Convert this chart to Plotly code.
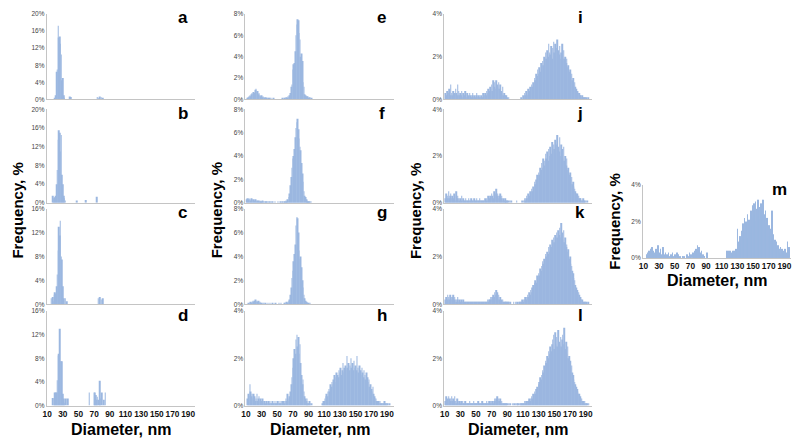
import plotly.graph_objects as go

# ---------------- data (frequency, % per 1-nm diameter bin) ----------------
diam_all = list(range(10, 198))
x_ticks = [10, 30, 50, 70, 90, 110, 130, 150, 170, 190]

a_diam = [20, 21, 22, 23, 24, 25, 26, 27, 28, 29, 30, 31, 32, 39, 40, 74, 75, 77, 79, 81]
a_freq = [0.3, 1.0, 6.5, 7.0, 17.2, 14.5, 14.7, 13.0, 10.5, 4.5, 5.0, 1.0, 0.3, 0.7, 0.6, 0.6, 0.4, 0.7, 0.5, 0.4]

b_diam = [17, 18, 19, 20, 21, 22, 23, 24, 25, 26, 27, 28, 29, 30, 31, 32, 33, 48, 59, 73]
b_freq = [1.5, 1.0, 0.8, 1.2, 1.5, 4.0, 7.0, 13.5, 15.5, 15.0, 11.0, 14.5, 6.0, 4.0, 1.5, 1.0, 0.5, 0.5, 0.6, 1.3]

c_diam = [15, 17, 18, 19, 20, 21, 22, 23, 24, 25, 26, 27, 28, 29, 30, 31, 33, 35, 75, 77, 79, 81]
c_freq = [1.0, 1.2, 0.5, 1.6, 2.0, 1.8, 3.0, 5.0, 9.0, 13.0, 11.5, 14.0, 8.0, 7.5, 3.0, 1.0, 1.0, 0.5, 1.0, 1.2, 0.8, 1.0]

d_diam = [17, 19, 20, 21, 22, 23, 24, 25, 26, 27, 28, 29, 30, 31, 32, 34, 36,
          64, 70, 71, 72, 73, 74, 76, 77, 78, 80, 82, 84]
d_freq = [1.3, 1.2, 2.2, 2.2, 2.2, 4.3, 8.5, 8.8, 13.0, 7.5, 7.5, 7.5, 2.0, 1.2, 0.5, 1.2, 1.2,
          2.2, 2.2, 2.2, 1.8, 1.0, 1.5, 1.0, 4.2, 1.2, 2.2, 1.0, 2.2]

e_freq = [
    0, 0, 0.1, 0.2, 0.3, 0.4, 0.3, 0.5, 0.6, 0.5,
    0.7, 0.6, 0.9, 1.0, 0.7, 0.8, 0.5, 0.6, 0.4, 0.3,
    0.4, 0.2, 0.3, 0.2, 0.1, 0.2, 0.1, 0.1, 0, 0.1,
    0.1, 0, 0.1, 0, 0, 0.1, 0, 0, 0, 0,
    0, 0, 0, 0, 0, 0, 0, 0.1, 0, 0.1,
    0.1, 0.1, 0.2, 0.1, 0.3, 0.2, 0.4, 0.6, 1.2, 1.4,
    2.8, 3.3, 3.4, 4.5, 6.0, 7.0, 7.5, 7.4, 6.2, 5.6,
    4.0, 4.3, 3.6, 1.6, 1.2, 0.5, 0.4, 0.3, 0.2, 0.3,
    0.1, 0.2, 0.1, 0, 0.1, 0, 0, 0, 0, 0,
] + [0] * 98

f_freq = [
    0, 0.3, 0.4, 0.3, 0.4, 0.3, 0.2, 0.4, 0.3, 0.2,
    0.3, 0.2, 0.3, 0.2, 0.1, 0.2, 0.2, 0.1, 0.2, 0.1,
    0.1, 0.2, 0.1, 0.1, 0, 0.1, 0.1, 0, 0.1, 0,
    0.1, 0, 0.1, 0, 0.1, 0, 0, 0.1, 0, 0,
    0, 0.1, 0, 0, 0.1, 0, 0, 0.1, 0, 0.1,
    0.1, 0.2, 0.1, 0.3, 0.2, 0.5, 0.8, 1.5, 2.2, 3.0,
    3.8, 4.0, 4.6, 5.6, 6.4, 6.9, 7.2, 6.3, 5.5, 4.8,
    4.5, 3.4, 2.5, 1.8, 1.0, 0.6, 0.5, 0.3, 0.2, 0.1,
    0.1, 0.1, 0, 0.1, 0, 0, 0, 0, 0, 0,
] + [0] * 98

g_freq = [
    0, 0, 0, 0.1, 0, 0.1, 0.2, 0.1, 0.2, 0.3,
    0.2, 0.3, 0.4, 0.2, 0.3, 0.2, 0.3, 0.1, 0.2, 0.1,
    0.1, 0, 0.1, 0.1, 0, 0.1, 0, 0, 0.1, 0,
    0, 0.1, 0, 0, 0.1, 0, 0, 0, 0.1, 0,
    0, 0, 0.1, 0, 0, 0.1, 0, 0, 0, 0.1,
    0.1, 0, 0.2, 0.1, 0.2, 0.3, 0.4, 0.8, 1.4, 2.2,
    2.8, 3.6, 4.2, 5.0, 6.6, 7.3, 7.2, 6.0, 4.5, 3.8,
    4.0, 3.1, 2.0, 1.4, 0.8, 0.5, 0.3, 0.2, 0.1, 0.1,
    0.1, 0, 0.1, 0, 0, 0, 0, 0, 0, 0,
] + [0] * 98

h_freq = [
    0, 0, 0.3, 0.5, 0.4, 0.9, 0.6, 0.4, 0.5, 0.3,
    0.5, 0.4, 0.2, 0.3, 0.5, 0.2, 0.3, 0.4, 0.2, 0.3,
    0.2, 0.3, 0.1, 0.2, 0.2, 0.1, 0.2, 0.1, 0.1, 0.2,
    0.1, 0.2, 0.1, 0.1, 0.2, 0.1, 0.1, 0.2, 0.1, 0.1,
    0.2, 0.1, 0.2, 0.1, 0.1, 0.2, 0.1, 0.2, 0.2, 0.1,
    0.2, 0.3, 0.2, 0.5, 0.3, 0.2, 0.4, 0.6, 0.9, 1.2,
    1.6, 2.0, 2.4, 2.2, 2.8, 3.0, 2.5, 2.9, 2.2, 2.6,
    1.8, 1.3, 0.9, 1.1, 0.6, 0.4, 0.3, 0.2, 0.3, 0.1,
    0.1, 0.2, 0.1, 0, 0.1, 0, 0, 0, 0, 0,
    0, 0, 0, 0, 0, 0, 0, 0, 0.1, 0.2,
    0.2, 0.3, 0.4, 0.5, 0.4, 0.6, 0.7, 0.6, 0.9, 0.8,
    1.0, 0.9, 1.1, 1.3, 1.2, 1.0, 1.4, 1.3, 1.2, 1.5,
    1.4, 1.6, 1.3, 1.5, 1.8, 1.4, 1.6, 1.7, 1.5, 2.1,
    1.6, 1.8, 1.5, 1.7, 2.0, 1.6, 1.8, 1.5, 1.9, 1.6,
    1.7, 1.5, 2.1, 1.6, 1.4, 1.7, 1.5, 1.3, 1.6, 1.4,
    1.2, 1.5, 1.3, 1.1, 1.4, 1.2, 1.0, 1.1, 0.8, 0.9,
    0.7, 0.6, 0.8, 0.5, 0.4, 0.3, 0.3, 0.2, 0.2, 0.2,
    0.1, 0.2, 0.1, 0.1, 0.1, 0.1, 0.1, 0.2, 0.1, 0.1,
    0.1, 0.1, 0, 0.1, 0, 0, 0, 0,
]

i_freq = [
    0, 0.3, 0.2, 0.4, 0.2, 0.3, 0.5, 0.2, 0.7, 0.3,
    0.2, 0.4, 0.3, 0.2, 0.5, 0.3, 0.2, 0.7, 0.4, 0.2,
    0.3, 0.2, 0.4, 0.1, 0.3, 0.2, 0.4, 0.2, 0.1, 0.3,
    0.2, 0.1, 0.3, 0.2, 0.1, 0.2, 0.3, 0.1, 0.2, 0.1,
    0.2, 0.3, 0.1, 0.2, 0.1, 0.2, 0.1, 0.2, 0.1, 0.3,
    0.1, 0.2, 0.3, 0.2, 0.4, 0.3, 0.5, 0.4, 0.6, 0.5,
    0.7, 0.4, 0.9, 0.6, 0.8, 0.5, 0.9, 0.7, 0.6, 0.8,
    0.5, 0.7, 0.4, 0.3, 0.6, 0.2, 0.3, 0.2, 0.1, 0.2,
    0.1, 0, 0.1, 0, 0, 0, 0, 0, 0, 0,
    0, 0, 0, 0, 0, 0, 0, 0, 0.1, 0,
    0.2, 0.1, 0.3, 0.2, 0.4, 0.3, 0.2, 0.5, 0.4, 0.6,
    0.5, 0.7, 0.6, 0.8, 0.7, 1.0, 0.9, 1.2, 1.1, 1.4,
    1.2, 1.5, 1.3, 1.7, 1.4, 1.8, 1.6, 2.0, 1.7, 2.2,
    1.9, 2.3, 2.0, 2.6, 2.2, 2.1, 2.5, 1.9, 2.4, 2.7,
    2.2, 2.6, 2.0, 2.4, 2.8, 2.3, 2.1, 2.5, 1.9, 2.2,
    2.6, 1.8, 2.3, 1.9, 2.0, 1.7, 1.9, 1.5, 1.6, 1.3,
    1.4, 1.1, 1.2, 0.9, 1.0, 0.7, 0.8, 0.6, 0.5, 0.4,
    0.4, 0.3, 0.3, 0.2, 0.2, 0.1, 0.2, 0.1, 0.1, 0.1,
    0.1, 0.1, 0, 0.1, 0, 0, 0, 0,
]

j_freq = [
    0, 0.2, 0.4, 0.2, 0.3, 0.5, 0.2, 0.3, 0.4, 0.2,
    0.3, 0.2, 0.4, 0.3, 0.1, 0.5, 0.2, 0.3, 0.2, 0.1,
    0.2, 0.1, 0.3, 0.1, 0.2, 0.1, 0.1, 0.2, 0.1, 0.1,
    0.1, 0.2, 0.1, 0.1, 0.2, 0.1, 0.1, 0.1, 0.2, 0.1,
    0.1, 0.2, 0.1, 0.1, 0.1, 0.2, 0.1, 0.1, 0.1, 0.1,
    0.1, 0.1, 0.2, 0.1, 0.2, 0.1, 0.3, 0.2, 0.3, 0.2,
    0.4, 0.3, 0.2, 0.5, 0.3, 0.4, 0.6, 0.3, 0.4, 0.2,
    0.3, 0.4, 0.2, 0.3, 0.1, 0.2, 0.1, 0.2, 0.1, 0.1,
    0.1, 0.1, 0, 0.1, 0, 0.1, 0, 0, 0, 0,
    0, 0, 0.1, 0, 0, 0, 0, 0, 0, 0.1,
    0, 0.1, 0.2, 0.1, 0.2, 0.3, 0.2, 0.4, 0.3, 0.5,
    0.4, 0.6, 0.5, 0.7, 0.6, 0.9, 0.8, 1.0, 1.2, 1.1,
    1.3, 1.2, 1.5, 1.4, 1.7, 1.5, 1.9, 1.6, 1.8, 2.1,
    1.9, 2.2, 1.8, 2.3, 2.0, 2.4, 2.1, 2.6, 2.2, 2.5,
    2.3, 2.7, 2.1, 2.5, 2.9, 2.4, 2.2, 2.8, 2.0, 2.5,
    2.3, 1.9, 2.4, 1.8, 2.0, 1.6, 1.9, 1.4, 1.5, 1.2,
    1.3, 1.0, 1.1, 0.8, 0.9, 0.7, 0.6, 0.5, 0.4, 0.4,
    0.3, 0.3, 0.2, 0.2, 0.2, 0.1, 0.1, 0.2, 0.1, 0.1,
    0.1, 0, 0.1, 0, 0, 0, 0, 0,
]

k_freq = [
    0, 0.2, 0.3, 0.2, 0.4, 0.3, 0.2, 0.4, 0.3, 0.2,
    0.3, 0.4, 0.2, 0.3, 0.2, 0.1, 0.2, 0.3, 0.1, 0.2,
    0.1, 0.2, 0.1, 0.1, 0.2, 0.1, 0.1, 0.1, 0.1, 0.1,
    0.1, 0.1, 0.1, 0.1, 0.1, 0.1, 0.1, 0.1, 0.1, 0.1,
    0.1, 0.1, 0.1, 0.1, 0.1, 0.1, 0.1, 0.1, 0.1, 0.1,
    0.1, 0.1, 0.1, 0.1, 0.1, 0.2, 0.1, 0.2, 0.2, 0.3,
    0.2, 0.3, 0.4, 0.3, 0.5, 0.4, 0.6, 0.5, 0.3, 0.4,
    0.2, 0.3, 0.2, 0.1, 0.2, 0.1, 0.1, 0.1, 0.1, 0.1,
    0.1, 0.1, 0.1, 0, 0.1, 0, 0, 0, 0.1, 0,
    0, 0.1, 0, 0.1, 0, 0.1, 0.1, 0.1, 0.1, 0.2,
    0.1, 0.2, 0.2, 0.3, 0.2, 0.3, 0.4, 0.3, 0.5, 0.4,
    0.6, 0.5, 0.7, 0.8, 0.7, 0.9, 1.0, 0.9, 1.2, 1.1,
    1.3, 1.2, 1.5, 1.4, 1.6, 1.8, 1.7, 1.9, 1.8, 2.1,
    2.0, 2.2, 2.1, 2.4, 2.2, 2.5, 2.4, 2.7, 2.5, 2.8,
    2.6, 2.9, 2.7, 3.0, 2.8, 3.1, 2.9, 3.2, 2.8, 3.4,
    3.0, 2.7, 3.1, 2.6, 2.8, 2.4, 2.5, 2.2, 2.3, 1.9,
    2.0, 1.7, 1.6, 1.4, 1.3, 1.1, 1.0, 0.8, 0.7, 0.6,
    0.5, 0.5, 0.4, 0.3, 0.3, 0.2, 0.2, 0.1, 0.1, 0.1,
    0.1, 0.1, 0, 0.1, 0, 0, 0, 0,
]

l_freq = [
    0, 0.2, 0.4, 0.3, 0.2, 0.4, 0.3, 0.2, 0.3, 0.4,
    0.2, 0.3, 0.2, 0.4, 0.2, 0.1, 0.3, 0.2, 0.1, 0.2,
    0.1, 0.2, 0.1, 0.2, 0.1, 0.1, 0.2, 0.1, 0.1, 0.1,
    0.1, 0.1, 0.2, 0.1, 0.1, 0.1, 0.1, 0.2, 0.1, 0.1,
    0.1, 0.1, 0.1, 0.2, 0.1, 0.1, 0.1, 0.1, 0.2, 0.1,
    0.1, 0.1, 0.1, 0.1, 0.2, 0.1, 0.1, 0.2, 0.1, 0.2,
    0.1, 0.2, 0.1, 0.2, 0.3, 0.2, 0.3, 0.4, 0.2, 0.3,
    0.2, 0.3, 0.1, 0.2, 0.1, 0.1, 0.1, 0.1, 0, 0.1,
    0.1, 0, 0.1, 0, 0.1, 0, 0, 0.1, 0, 0.1,
    0, 0.1, 0, 0.1, 0.1, 0, 0.1, 0.1, 0.1, 0.1,
    0.1, 0.1, 0.2, 0.1, 0.2, 0.1, 0.2, 0.2, 0.3, 0.2,
    0.3, 0.4, 0.3, 0.5, 0.4, 0.6, 0.5, 0.7, 0.8, 0.7,
    0.9, 1.0, 1.2, 1.1, 1.3, 1.5, 1.4, 1.7, 1.6, 1.9,
    1.8, 2.1, 2.0, 2.3, 2.2, 2.5, 2.3, 2.6, 2.8, 3.0,
    2.4, 3.1, 2.6, 2.9, 2.5, 3.2, 2.7, 2.6, 2.9, 2.5,
    2.8, 3.0, 2.6, 3.3, 2.4, 2.7, 2.2, 2.5, 2.0, 2.1,
    1.9, 1.6, 1.7, 1.4, 1.3, 1.1, 1.0, 0.9, 0.8, 0.7,
    0.6, 0.5, 0.5, 0.4, 0.3, 0.3, 0.2, 0.2, 0.1, 0.2,
    0.1, 0.1, 0.1, 0, 0.1, 0, 0, 0,
]

m_freq = [
    0, 0, 0, 0, 0.2, 0.3, 0.1, 0.4, 0.2, 0.5,
    0.3, 0.6, 0.2, 0.4, 0.3, 0.2, 0.5, 0.3, 0.2, 0.7,
    0.3, 0.2, 0.5, 0.1, 0.2, 0.6, 0.2, 0.1, 0.3, 0.1,
    0.2, 0.1, 0.3, 0.1, 0, 0.2, 0.1, 0.3, 0.1, 0,
    0.2, 0.1, 0, 0.3, 0.1, 0.2, 0, 0.1, 0, 0,
    0.1, 0, 0.1, 0, 0, 0.1, 0.2, 0.1, 0, 0.3,
    0.1, 0.2, 0, 0.3, 0.2, 0.4, 0.3, 0.5, 0.3, 0.7,
    0.4, 0.6, 0.3, 0.2, 0.4, 0.1, 0.2, 0, 0.1, 0,
    0, 0.3, 0.1, 0, 0, 0, 0, 0, 0, 0,
    0, 0, 0, 0, 0, 0, 0, 0, 0, 0,
    0, 0, 0, 0, 0, 0, 0.1, 0.4, 0.3, 0.4,
    0.2, 0.4, 0.1, 0.3, 0.4, 0.2, 0.4, 0.3, 0.5, 0.4,
    1.6, 0.6, 0.9, 1.2, 0.8, 1.5, 1.0, 1.9, 1.3, 2.2,
    1.4, 2.0, 1.1, 2.4, 1.7, 2.1, 1.5, 2.6, 1.8, 2.9,
    2.2, 3.0, 2.4, 3.1, 2.0, 2.7, 3.2, 2.3, 2.8, 2.1,
    3.0, 2.5, 2.2, 3.2, 2.4, 1.9, 2.6, 1.7, 2.2, 1.5,
    1.8, 1.2, 1.6, 0.9, 2.6, 1.1, 1.3, 0.8, 1.0, 0.6,
    0.9, 0.4, 0.7, 0.3, 0.5, 0.6, 0.2, 0.5, 0.3, 0.4,
    0.2, 0.5, 0.1, 0.3, 0.9, 0.2, 0.6, 0,
]

# panel: (letter, x values, y values, y max, y step, column, row-box, show x ticks)
panels = [
    ("a", a_diam, a_freq, 20, 4, 0, 0, False),
    ("b", b_diam, b_freq, 20, 4, 0, 1, False),
    ("c", c_diam, c_freq, 16, 4, 0, 2, False),
    ("d", d_diam, d_freq, 16, 4, 0, 3, True),
    ("e", diam_all, e_freq, 8, 2, 1, 0, False),
    ("f", diam_all, f_freq, 8, 2, 1, 1, False),
    ("g", diam_all, g_freq, 8, 2, 1, 2, False),
    ("h", diam_all, h_freq, 4, 2, 1, 3, True),
    ("i", diam_all, i_freq, 4, 2, 2, 0, False),
    ("j", diam_all, j_freq, 4, 2, 2, 1, False),
    ("k", diam_all, k_freq, 4, 2, 2, 2, False),
    ("l", diam_all, l_freq, 4, 2, 2, 3, True),
    ("m", diam_all, m_freq, 4, 2, 3, 4, True),
]

# ---------------- layout geometry (pixels) ----------------
W, H = 800, 447
row_boxes = [(10, 97), (107, 202), (208, 305), (312, 408), (184, 258)]
col_left = [43, 243, 443, 643]
col_w = 149

FONT = "Arial, Liberation Sans, Helvetica, sans-serif"
BAR = "rgb(155,183,224)"
AXC = "#c4c4c4"

fig = go.Figure()
layout = dict(
    width=W, height=H, margin=dict(l=0, r=0, t=0, b=0),
    paper_bgcolor="white", plot_bgcolor="white", showlegend=False,
    bargap=0.25, font=dict(family=FONT),
)
annotations = []

for idx, (letter, xs, ys, ymax, ystep, col, row, showx) in enumerate(panels):
    n = idx + 1
    xa = "xaxis" if n == 1 else f"xaxis{n}"
    ya = "yaxis" if n == 1 else f"yaxis{n}"
    xr = "x" if n == 1 else f"x{n}"
    yr = "y" if n == 1 else f"y{n}"
    top, bot = row_boxes[row]
    x0 = col_left[col]
    x1 = x0 + col_w
    fig.add_trace(go.Bar(x=xs[:len(ys)], y=ys, xaxis=xr, yaxis=yr,
                         marker=dict(color=BAR, line=dict(width=0)),
                         hoverinfo="x+y"))
    layout[xa] = dict(
        domain=[x0 / W, x1 / W], anchor=yr, range=[9.5, 198.5],
        showgrid=False, zeroline=False, showline=True, linecolor=AXC, linewidth=1,
        tickmode="array", tickvals=x_ticks, ticktext=[f"<b>{v}</b>" for v in x_ticks],
        showticklabels=showx, ticks="", tickangle=0, ticklen=0,
        tickfont=dict(size=8.3, color="#111"),
    )
    yt = list(range(0, ymax + 1, ystep))
    layout[ya] = dict(
        domain=[1 - bot / H, 1 - top / H], anchor=xr, range=[0, ymax],
        showgrid=False, zeroline=False, showline=True, linecolor=AXC, linewidth=1,
        tickmode="array", tickvals=yt, ticktext=[f"{v}%" for v in yt],
        ticks="", tickfont=dict(size=6.5, color="#444"),
    )
    annotations.append(dict(
        text=f"<b>{letter}</b>", xref="paper", yref="paper",
        x=(x0 + 137) / W, y=1 - (top + 4) / H, xanchor="center", yanchor="middle",
        showarrow=False, font=dict(size=17, color="black"),
    ))

# axis titles
for col in range(3):
    annotations.append(dict(
        text="<b>Frequency, %</b>", xref="paper", yref="paper",
        x=(col_left[col] - 29) / W, y=1 - 210 / H, textangle=-90,
        xanchor="center", yanchor="middle", showarrow=False,
        font=dict(size=15, color="black"),
    ))
    annotations.append(dict(
        text="<b>Diameter, nm</b>", xref="paper", yref="paper",
        x=(col_left[col] + col_w / 2) / W, y=1 - 432 / H,
        xanchor="center", yanchor="middle", showarrow=False,
        font=dict(size=16, color="black"),
    ))
annotations.append(dict(
    text="<b>Frequency, %</b>", xref="paper", yref="paper",
    x=(col_left[3] - 29) / W, y=1 - 221 / H, textangle=-90,
    xanchor="center", yanchor="middle", showarrow=False,
    font=dict(size=15, color="black"),
))
annotations.append(dict(
    text="<b>Diameter, nm</b>", xref="paper", yref="paper",
    x=(col_left[3] + col_w / 2) / W, y=1 - 281 / H,
    xanchor="center", yanchor="middle", showarrow=False,
    font=dict(size=16, color="black"),
))

layout["annotations"] = annotations
fig.update_layout(**layout)
fig.write_html("out.html", config={"displayModeBar": False},
               post_script="document.body.style.margin='0px';document.body.style.overflow='hidden';")
